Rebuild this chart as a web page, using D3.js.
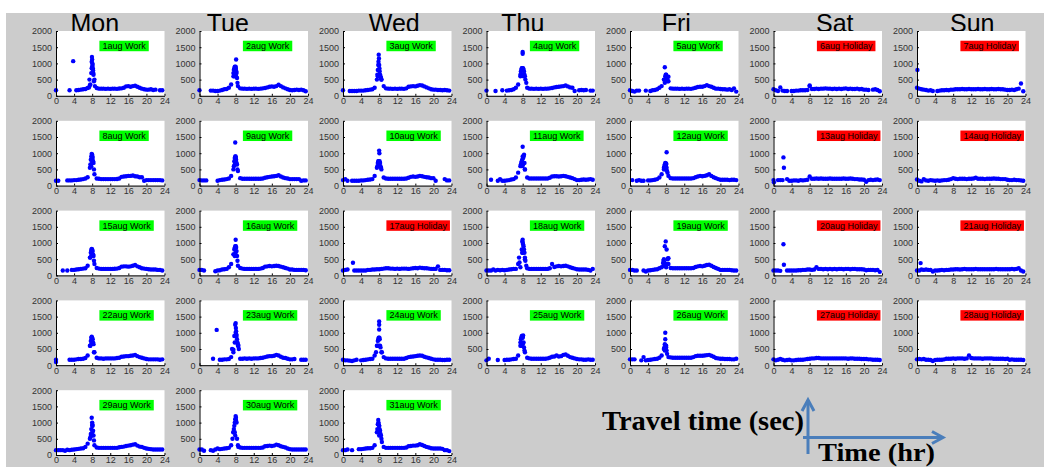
<!DOCTYPE html>
<html><head><meta charset="utf-8">
<script src="https://cdn.jsdelivr.net/npm/d3@7"></script>
<style>html,body{margin:0;padding:0;background:#fff;overflow:hidden}</style>
</head><body>
<svg id="c" width="1044" height="467"></svg>
<script>
const _ = null;
const weekdays = ["Mon","Tue","Wed","Thu","Fri","Sat","Sun"];
const dayLabels = ["1aug Work","2aug Work","3aug Work","4aug Work","5aug Work","6aug Holiday","7aug Holiday",
 "8aug Work","9aug Work","10aug Work","11aug Work","12aug Work","13aug Holiday","14aug Holiday",
 "15aug Work","16aug Work","17aug Holiday","18aug Work","19aug Work","20aug Holiday","21aug Holiday",
 "22aug Work","23aug Work","24aug Work","25aug Work","26aug Work","27aug Holiday","28aug Holiday",
 "29aug Work","30aug Work","31aug Work"];
const hours = [0,0.5,1,1.5,2,2.5,3,3.5,4,4.5,5,5.5,6,6.5,7,7.5,8,8.5,9,9.5,10,10.5,11,11.5,
 12,12.5,13,13.5,14,14.5,15,15.5,16,16.5,17,17.5,18,18.5,19,19.5,20,20.5,21,21.5,22,22.5,23,23.5];
const xTicks = [0,4,8,12,16,20,24];
const yTicks = [0,500,1000,1500,2000];

// half-hourly travel time (sec) per day
const baseSeries = [
 [170,_,_,_,_,_,170,_,_,170,180,190,200,210,240,330,700,500,240,220,220,220,215,220,215,220,220,215,225,230,250,290,300,280,300,310,280,250,220,200,190,190,200,180,190,_,170,170],
 [170,_,_,_,_,160,160,150,150,160,180,200,210,250,350,600,850,300,230,220,220,215,220,215,220,220,215,220,230,240,260,280,290,280,300,340,300,260,230,200,180,170,180,190,180,190,170,140],
 [170,_,_,150,150,150,150,160,160,160,170,180,190,200,250,500,800,500,300,230,220,220,215,220,215,220,220,215,230,280,290,300,290,310,330,320,290,260,230,200,190,190,180,180,170,180,170,160],
 [160,_,_,_,150,_,_,170,_,160,170,180,200,250,350,650,800,600,250,220,220,215,220,215,220,215,220,220,230,240,260,270,280,290,300,320,290,260,250,150,_,170,180,170,180,_,160,160],
 [170,150,130,160,160,_,_,160,_,150,170,180,200,250,300,500,600,450,230,220,220,220,215,220,215,220,220,215,230,250,270,280,280,300,330,300,280,250,220,220,210,200,200,190,200,180,230,130],
 [200,170,150,260,160,150,150,_,150,150,160,160,170,170,170,180,300,210,210,220,210,220,220,230,220,220,210,220,210,220,210,220,230,210,220,210,210,220,200,210,190,190,180,_,190,200,180,140],
 [250,220,200,190,180,160,170,150,_,150,160,170,170,180,170,190,190,200,200,200,210,200,200,210,200,200,200,210,200,200,210,200,200,210,200,200,210,200,200,190,180,180,190,180,200,220,380,140],
 [150,150,_,_,_,160,160,160,170,170,180,190,200,220,260,550,800,350,220,210,200,200,200,200,200,200,200,205,220,270,280,290,300,300,310,290,280,260,260,150,170,170,170,170,170,170,170,160],
 [170,160,160,160,_,_,_,_,150,170,180,190,200,220,300,500,800,450,230,210,210,210,210,210,210,210,210,210,220,240,260,270,280,290,300,320,280,250,230,220,200,200,200,200,200,150,160,160],
 [170,200,150,_,150,150,150,150,160,160,170,180,190,200,300,550,700,500,250,220,210,210,210,210,210,210,210,210,220,240,270,280,270,280,300,290,270,260,250,230,230,150,_,_,_,200,160,160],
 [_,_,180,_,_,150,200,150,150,160,170,190,200,250,400,600,900,500,250,220,220,220,220,220,220,220,220,220,240,280,290,290,280,290,300,290,270,250,230,200,170,170,180,190,180,190,200,180],
 [_,170,_,150,170,150,150,_,160,160,170,180,200,250,350,550,650,300,230,220,220,220,220,220,220,220,220,220,230,260,280,300,290,300,320,350,300,260,230,200,180,180,180,180,170,180,180,170],
 [170,_,170,170,170,_,200,150,150,160,160,150,170,160,170,180,280,210,210,220,210,220,210,210,210,220,210,210,210,210,210,220,210,210,220,210,200,200,190,190,180,120,170,180,170,180,190,170],
 [190,150,130,200,160,150,170,160,150,160,150,160,170,170,180,200,230,210,200,210,210,210,200,210,210,220,240,210,210,210,200,210,210,210,220,210,210,200,200,200,180,170,170,180,170,170,160,150],
 [_,_,_,150,_,150,_,170,170,180,190,200,210,220,300,550,750,350,230,210,200,200,200,200,200,200,205,210,230,270,280,280,270,280,300,320,280,250,220,210,200,190,180,180,180,170,170,150],
 [170,170,150,_,_,_,_,130,150,160,180,190,200,250,350,650,850,300,230,210,200,200,200,200,200,200,200,210,230,270,280,290,280,290,300,290,270,250,230,210,180,180,170,170,170,170,170,160],
 [150,170,180,_,_,150,150,150,150,150,150,170,170,180,180,190,190,200,210,220,220,210,210,200,210,200,210,210,210,200,210,220,230,220,240,230,220,220,210,200,200,200,280,170,170,170,160,160],
 [150,150,150,180,150,170,160,170,160,170,180,190,200,200,350,250,700,500,220,200,200,200,200,200,200,200,200,200,220,350,260,280,290,280,290,300,280,250,230,210,190,180,180,180,180,170,150,200],
 [170,170,150,150,_,_,150,120,150,160,170,180,190,220,250,300,250,350,230,220,220,220,220,220,220,220,220,220,230,260,280,290,280,300,320,330,300,260,230,200,170,170,170,170,170,160,150,150],
 [150,150,150,140,_,_,150,150,150,150,150,160,160,170,170,180,180,170,180,250,200,200,190,200,190,200,190,200,190,200,200,190,200,200,190,200,200,190,190,190,180,160,170,170,170,160,170,110],
 [150,150,180,170,180,170,170,120,150,150,160,170,160,170,170,180,180,190,190,180,190,200,190,190,190,190,200,190,190,190,190,190,190,190,190,200,190,190,190,190,190,190,200,190,200,220,150,120],
 [170,_,_,_,_,_,170,170,170,180,190,190,200,220,300,600,800,400,230,210,210,200,210,210,210,210,210,220,230,260,270,280,280,290,300,320,280,250,230,210,190,180,180,180,180,180,170,180],
 [_,_,_,_,_,_,200,_,_,170,170,180,180,190,250,400,1000,600,200,200,210,200,210,200,210,210,210,220,230,250,270,280,280,290,320,300,260,230,220,200,180,180,190,_,_,170,170,170],
 [170,150,150,140,130,150,170,_,150,160,170,180,190,200,300,600,800,400,250,210,200,200,200,200,200,200,200,200,220,250,260,270,280,290,300,290,260,240,220,200,180,170,170,170,160,160,170,170],
 [150,200,_,_,_,160,_,_,160,170,170,180,190,200,300,600,850,400,230,210,200,200,200,200,200,200,200,210,230,260,270,300,270,280,320,330,290,250,230,210,190,180,180,170,170,180,170,170],
 [180,180,180,_,_,150,250,150,160,170,180,190,200,230,300,500,600,250,240,230,230,230,230,230,230,230,230,230,250,280,290,290,290,300,310,320,290,260,220,210,200,200,190,190,190,180,180,200],
 [180,150,170,190,170,150,160,170,150,150,160,170,170,170,180,190,200,210,210,220,220,210,210,210,210,210,210,210,210,210,210,210,210,200,210,210,200,200,200,190,190,190,180,180,170,170,170,160],
 [180,190,180,190,170,170,160,130,160,170,170,170,180,200,200,200,210,200,210,210,210,200,210,300,220,210,210,210,210,200,210,210,210,210,200,200,200,200,200,190,200,170,180,170,170,170,170,160],
 [150,150,150,150,130,160,150,160,170,180,190,200,210,250,350,500,900,300,230,220,220,220,220,220,220,220,220,220,240,250,260,280,290,300,320,330,290,260,250,220,200,190,180,170,170,170,170,170],
 [170,170,130,_,_,150,130,170,200,180,190,200,210,220,300,700,1100,300,230,220,220,220,220,220,220,220,220,220,230,270,280,290,280,290,320,300,270,250,230,200,180,170,170,170,170,170,170,170],
 [150,150,170,_,150,_,_,180,180,190,200,210,210,220,300,700,900,500,250,220,220,220,220,220,220,220,220,220,230,270,280,290,290,300,330,310,280,250,230,210,200,200,200,200,190,150,150,120]
];

// morning-peak cluster and isolated outliers per day: [hour, sec]
const peakSeries = [
 [[3.8,1070],[7.3,260],[7.4,500],[7.6,350],[7.8,700],[7.9,1050],[7.95,1200],[8.0,1120],[8.05,1000],[8.1,950],[8.15,850],[8.2,780],[8.25,700],[8.3,650],[8.4,450],[8.6,300],[8.0,900],[7.9,850]],
 [[7.5,700],[7.6,800],[7.7,850],[7.8,900],[7.9,880],[8.0,900],[8.1,1120],[8.05,800],[8.15,750],[8.2,700],[8.3,550],[8.4,400],[7.7,600],[7.9,700],[8.1,600]],
 [[7.6,650],[7.7,800],[7.8,950],[7.85,1050],[7.9,1270],[7.95,1150],[8.0,950],[8.05,850],[8.1,750],[8.2,650],[8.3,600],[8.4,550],[8.5,500],[7.7,600],[7.9,800]],
 [[7.5,600],[7.6,750],[7.7,800],[7.8,850],[7.9,850],[8.0,1300],[8.0,1350],[8.05,800],[8.1,850],[8.2,800],[8.3,750],[8.4,650],[8.6,500],[8.8,400],[7.8,650],[8.2,600]],
 [[7.6,500],[7.7,880],[7.8,600],[7.9,650],[8.0,650],[8.1,550],[8.2,500],[8.3,450],[8.5,590],[7.7,400],[7.9,500]],
 [[8.0,320]],
 [[0.1,800]],
 [[7.6,650],[7.7,800],[7.8,900],[7.9,980],[8.0,950],[8.05,900],[8.1,850],[8.2,750],[8.3,700],[8.4,500],[7.8,600],[8.0,700]],
 [[7.6,600],[7.7,750],[7.8,850],[7.9,900],[7.9,1330],[8.0,900],[8.05,850],[8.1,800],[8.2,700],[8.3,650],[8.4,500],[7.8,650],[8.0,700]],
 [[7.6,600],[7.7,700],[7.8,750],[7.9,750],[8.0,1080],[8.05,1000],[8.1,750],[8.2,700],[8.3,600],[8.4,550],[7.8,600]],
 [[7.6,650],[7.7,700],[7.8,750],[7.9,800],[8.0,1200],[8.1,850],[8.2,900],[8.3,950],[8.4,700],[8.5,500],[7.9,600],[8.1,650]],
 [[7.5,500],[7.6,600],[7.7,650],[7.8,700],[7.9,650],[8.0,680],[8.1,1030],[8.1,550],[8.2,450],[8.3,400],[7.8,500]],
 [[0.1,100],[2.2,870],[2.3,550]],
 [],
 [[7.6,550],[7.7,700],[7.8,780],[7.9,820],[8.0,800],[8.1,750],[8.2,650],[8.3,600],[8.4,450],[7.8,600]],
 [[7.6,650],[7.7,800],[7.8,850],[7.9,900],[8.0,1100],[8.05,900],[8.1,850],[8.2,750],[8.3,600],[8.4,450],[7.8,600],[8.0,700]],
 [[2.2,390]],
 [[7.2,550],[7.3,400],[7.8,800],[7.9,1050],[8.0,1100],[8.05,1000],[8.1,950],[8.2,900],[8.3,800],[8.4,700],[8.5,550],[8.6,450],[8.8,300],[7.9,700]],
 [[7.3,380],[7.4,450],[7.5,500],[7.6,400],[7.7,900],[7.9,1050],[8.0,350],[8.1,800],[8.3,500],[8.4,520],[8.5,530],[7.8,300]],
 [[2.2,960],[2.3,330]],
 [[0.8,380]],
 [[0.0,100],[7.6,600],[7.7,750],[7.8,850],[7.9,880],[8.0,850],[8.1,800],[8.2,700],[8.3,650],[8.4,400],[7.8,650]],
 [[3.8,1090],[7.2,500],[7.5,480],[7.7,900],[7.9,1250],[8.0,1300],[8.05,1150],[8.1,1050],[8.15,950],[8.2,900],[8.3,800],[8.4,700],[8.5,650],[8.6,600],[8.7,500],[8.0,900],[7.8,700]],
 [[7.3,400],[7.6,600],[7.7,750],[7.8,800],[7.9,850],[8.0,1350],[8.0,1250],[8.0,1100],[8.05,850],[8.1,800],[8.2,600],[8.3,550],[8.6,400],[7.9,600]],
 [[7.5,700],[7.6,800],[7.7,850],[7.8,900],[7.9,850],[8.0,880],[8.1,920],[8.2,700],[8.3,550],[8.4,450],[7.7,600],[8.0,650]],
 [[7.6,550],[7.7,650],[7.8,1000],[7.8,800],[7.9,600],[8.0,550],[8.1,450],[8.2,350],[7.7,450]],
 [],
 [],
 [[7.6,550],[7.7,650],[7.8,800],[7.9,1150],[8.0,1000],[8.05,950],[8.1,900],[8.2,750],[8.3,600],[8.4,450],[7.8,600],[8.0,700]],
 [[7.3,500],[7.5,700],[7.6,800],[7.7,900],[7.8,1000],[7.9,1100],[8.0,1200],[8.05,1150],[8.1,1050],[8.2,1000],[8.3,500],[8.6,250],[7.8,700],[7.9,600]],
 [[7.6,800],[7.7,950],[7.8,1080],[7.85,1000],[7.9,950],[8.0,900],[8.1,800],[8.2,750],[8.3,650],[8.4,600],[8.6,400],[7.8,700],[8.0,600]]
];

const svg = d3.select("#c");
const FONT = "'Liberation Sans', Arial, sans-serif";
svg.append("rect").attr("x",6).attr("y",13).attr("width",1038).attr("height",454).attr("fill","#cccccc");

const W = 108.5, H = 64.8, X0 = 56, Y0 = 31, DX = 143.5, DY = 89.8;
const x = d3.scaleLinear().domain([0,24]).range([0,W]);
const y = d3.scaleLinear().domain([0,2000]).range([H,0]);

// weekday titles (hand-placed text in the source, slightly off panel centres)
const titleShift = [-15.5,-26,-3,-18,-8,7,1];
svg.selectAll("text.title").data(weekdays).join("text").attr("class","title")
  .attr("x",(d,i)=>X0+i*DX+W/2+titleShift[i]).attr("y",31.5)
  .attr("text-anchor","middle").attr("font-family",FONT).attr("font-size",25).attr("fill","#000")
  .text(d=>d);

dayLabels.forEach((lab,i)=>{
  const col = i%7, row = Math.floor(i/7);
  const g = svg.append("g").attr("transform",`translate(${X0+col*DX},${Y0+row*DY})`);
  g.append("rect").attr("width",W).attr("height",H).attr("fill","#fff");
  const pts = hours.map((h,k)=>[h,baseSeries[i][k]]).filter(d=>d[1]!=null).concat(peakSeries[i]);
  g.append("g").selectAll("circle").data(pts).join("circle")
    .attr("cx",d=>x(d[0])).attr("cy",d=>y(d[1])).attr("r",2.2).attr("fill","#0000ff");

  const ya = g.append("g").call(d3.axisLeft(y).tickValues(yTicks).tickFormat(d3.format("d"))
    .tickSizeInner(-2).tickSizeOuter(0).tickPadding(4));
  const xa = g.append("g").attr("transform",`translate(0,${H})`)
    .call(d3.axisBottom(x).tickValues(xTicks).tickFormat(d3.format("d"))
    .tickSizeInner(-2).tickSizeOuter(0).tickPadding(2));
  [ya,xa].forEach(a=>{
    a.attr("font-family",FONT).attr("font-size",9);
    a.selectAll("text").attr("fill","#333");
    a.selectAll("path,line").attr("stroke","#000");
  });

  const holiday = lab.indexOf("Holiday")>=0;
  const lg = g.append("g").attr("transform",`translate(${x(9.6)},${y(1700)})`);
  const bg = lg.append("rect").attr("height",10.5).attr("fill",holiday?"#ff0000":"#00ff00");
  const t = lg.append("text").attr("x",3).attr("y",8.3).attr("font-family",FONT).attr("font-size",9)
    .attr("fill","#000").text(lab);
  bg.attr("width",t.node().getComputedTextLength()+6);
});

// axis legend annotation
const blue = "#4a7ebb";
const ann = svg.append("g");
ann.append("text").attr("x",602).attr("y",430).attr("font-family","'Liberation Serif', 'Times New Roman', serif")
  .attr("font-weight","bold").attr("font-size",27).attr("textLength",202).attr("lengthAdjust","spacingAndGlyphs")
  .attr("fill","#000").text("Travel time (sec)");
ann.append("text").attr("x",818).attr("y",461).attr("font-family","'Liberation Serif', 'Times New Roman', serif")
  .attr("font-weight","bold").attr("font-size",26).attr("textLength",117).attr("lengthAdjust","spacingAndGlyphs")
  .attr("fill","#000").text("Time (hr)");
const st = s=>s.attr("stroke",blue).attr("stroke-width",3).attr("fill","none");
st(ann.append("line").attr("x1",808).attr("y1",454).attr("x2",808).attr("y2",400));
st(ann.append("polyline").attr("points","802,411 808,400 814,411"));
st(ann.append("line").attr("x1",803).attr("y1",437.5).attr("x2",943).attr("y2",437.5));
st(ann.append("polyline").attr("points","932,431.5 943,437.5 932,443.5"));
</script>
</body></html>
